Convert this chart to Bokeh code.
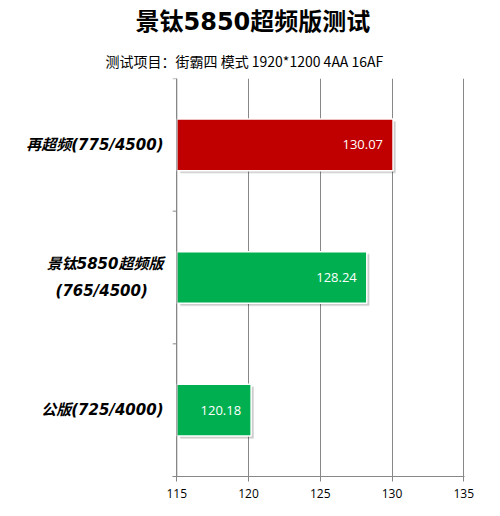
from bokeh.plotting import figure
from bokeh.models import (FactorRange, Range1d, FixedTicker, ColumnDataSource, Title, Span)
from bokeh.transform import dodge
from bokeh.core.properties import value
from bokeh.embed import file_html
from bokeh.resources import INLINE

title_text = "景钛5850超频版测试"
subtitle_text = "测试项目：街霸四 模式 1920*1200 4AA 16AF"
categories = ["公版(725/4000)", "景钛5850超频版\n(765/4500)\u00a0\u00a0\u00a0", "再超频(775/4500)"]
scores = [120.18, 128.24, 130.07]
bar_colors = ["#00B050", "#00B050", "#C00000"]
x_ticks = [115, 120, 125, 130, 135]
x_start = 115

GRID = "#878787"
CJK = "DejaVu Sans, Noto Sans CJK SC"

p = figure(width=492, height=508, output_backend="svg", toolbar_location=None,
           y_range=FactorRange(factors=categories, range_padding=0),
           x_range=Range1d(x_start - 0.3, 135.05),
           min_border_left=172, min_border_right=28, min_border_top=76, min_border_bottom=32)
p.outline_line_color = None
p.background_fill_color = "white"

src = ColumnDataSource(dict(cat=categories, score=scores, color=bar_colors,
                            label=[f"{s:.2f}" for s in scores],
                            shadow_right=[s + 0.18 for s in scores]))

# y axis line and boundary ticks (Excel style)
p.add_layout(Span(location=x_start, dimension="height", line_color=GRID, line_width=1))
p.segment(x0=x_start - 0.3, x1=x_start, y0=dodge("cat", -0.5, range=p.y_range),
          y1=dodge("cat", -0.5, range=p.y_range), source=src, line_color=GRID, line_width=1)
top_src = ColumnDataSource(dict(cat=categories[-1:]))
p.segment(x0=x_start - 0.3, x1=x_start, y0=dodge("cat", 0.499, range=p.y_range),
          y1=dodge("cat", 0.499, range=p.y_range), source=top_src, line_color=GRID, line_width=1)

# shadow
p.hbar(y=dodge("cat", -0.022, range=p.y_range), left=x_start + 0.25, right="shadow_right", height=0.39,
       source=src, fill_color="black", fill_alpha=0.10, line_color=None)
p.hbar(y=dodge("cat", -0.015, range=p.y_range), left=x_start + 0.2, right="shadow_right", height=0.39,
       source=src, fill_color="black", fill_alpha=0.10, line_color=None)
# bars
p.hbar(y="cat", left=x_start, right="score", height=0.39, source=src,
       fill_color="color", line_color="white", line_width=1.5)
p.text(x="score", y="cat", text="label", source=src, text_color="white",
       text_align="right", text_baseline="middle", x_offset=-10,
       text_font=value("Open Sans"), text_font_size="13px")

# x axis
xa = p.xaxis[0]
xa.ticker = FixedTicker(ticks=x_ticks)
xa.axis_line_color = GRID
xa.major_tick_line_color = GRID
xa.major_tick_in = 0
xa.major_tick_out = 5
xa.minor_tick_line_color = None
xa.major_label_text_font = "Open Sans"
xa.major_label_text_font_size = "12px"
xa.major_label_text_color = "black"
xa.major_label_standoff = 7

p.xgrid.ticker = FixedTicker(ticks=x_ticks)
p.xgrid.grid_line_color = GRID
p.ygrid.grid_line_color = None

ca = p.yaxis[0]
ca.axis_line_color = None
ca.major_tick_line_color = None
ca.minor_tick_line_color = None
ca.major_tick_out = 0
ca.major_label_standoff = 9
ca.major_label_text_font = CJK
ca.major_label_text_font_size = "15px"
ca.major_label_text_font_style = "bold italic"
ca.major_label_text_color = "black"
ca.major_label_text_line_height = 1.55

p.title = None
p.add_layout(Title(text=subtitle_text, align="left", offset=-67, standoff=16,
                   text_font="Noto Sans CJK SC", text_font_size="14px",
                   text_font_style="normal", text_color="black"), "above")
p.add_layout(Title(text=title_text, align="left", offset=-37, standoff=10,
                   text_font=CJK, text_font_size="24px",
                   text_font_style="bold", text_color="black"), "above")

open("out.html", "w").write(file_html(p, INLINE))
